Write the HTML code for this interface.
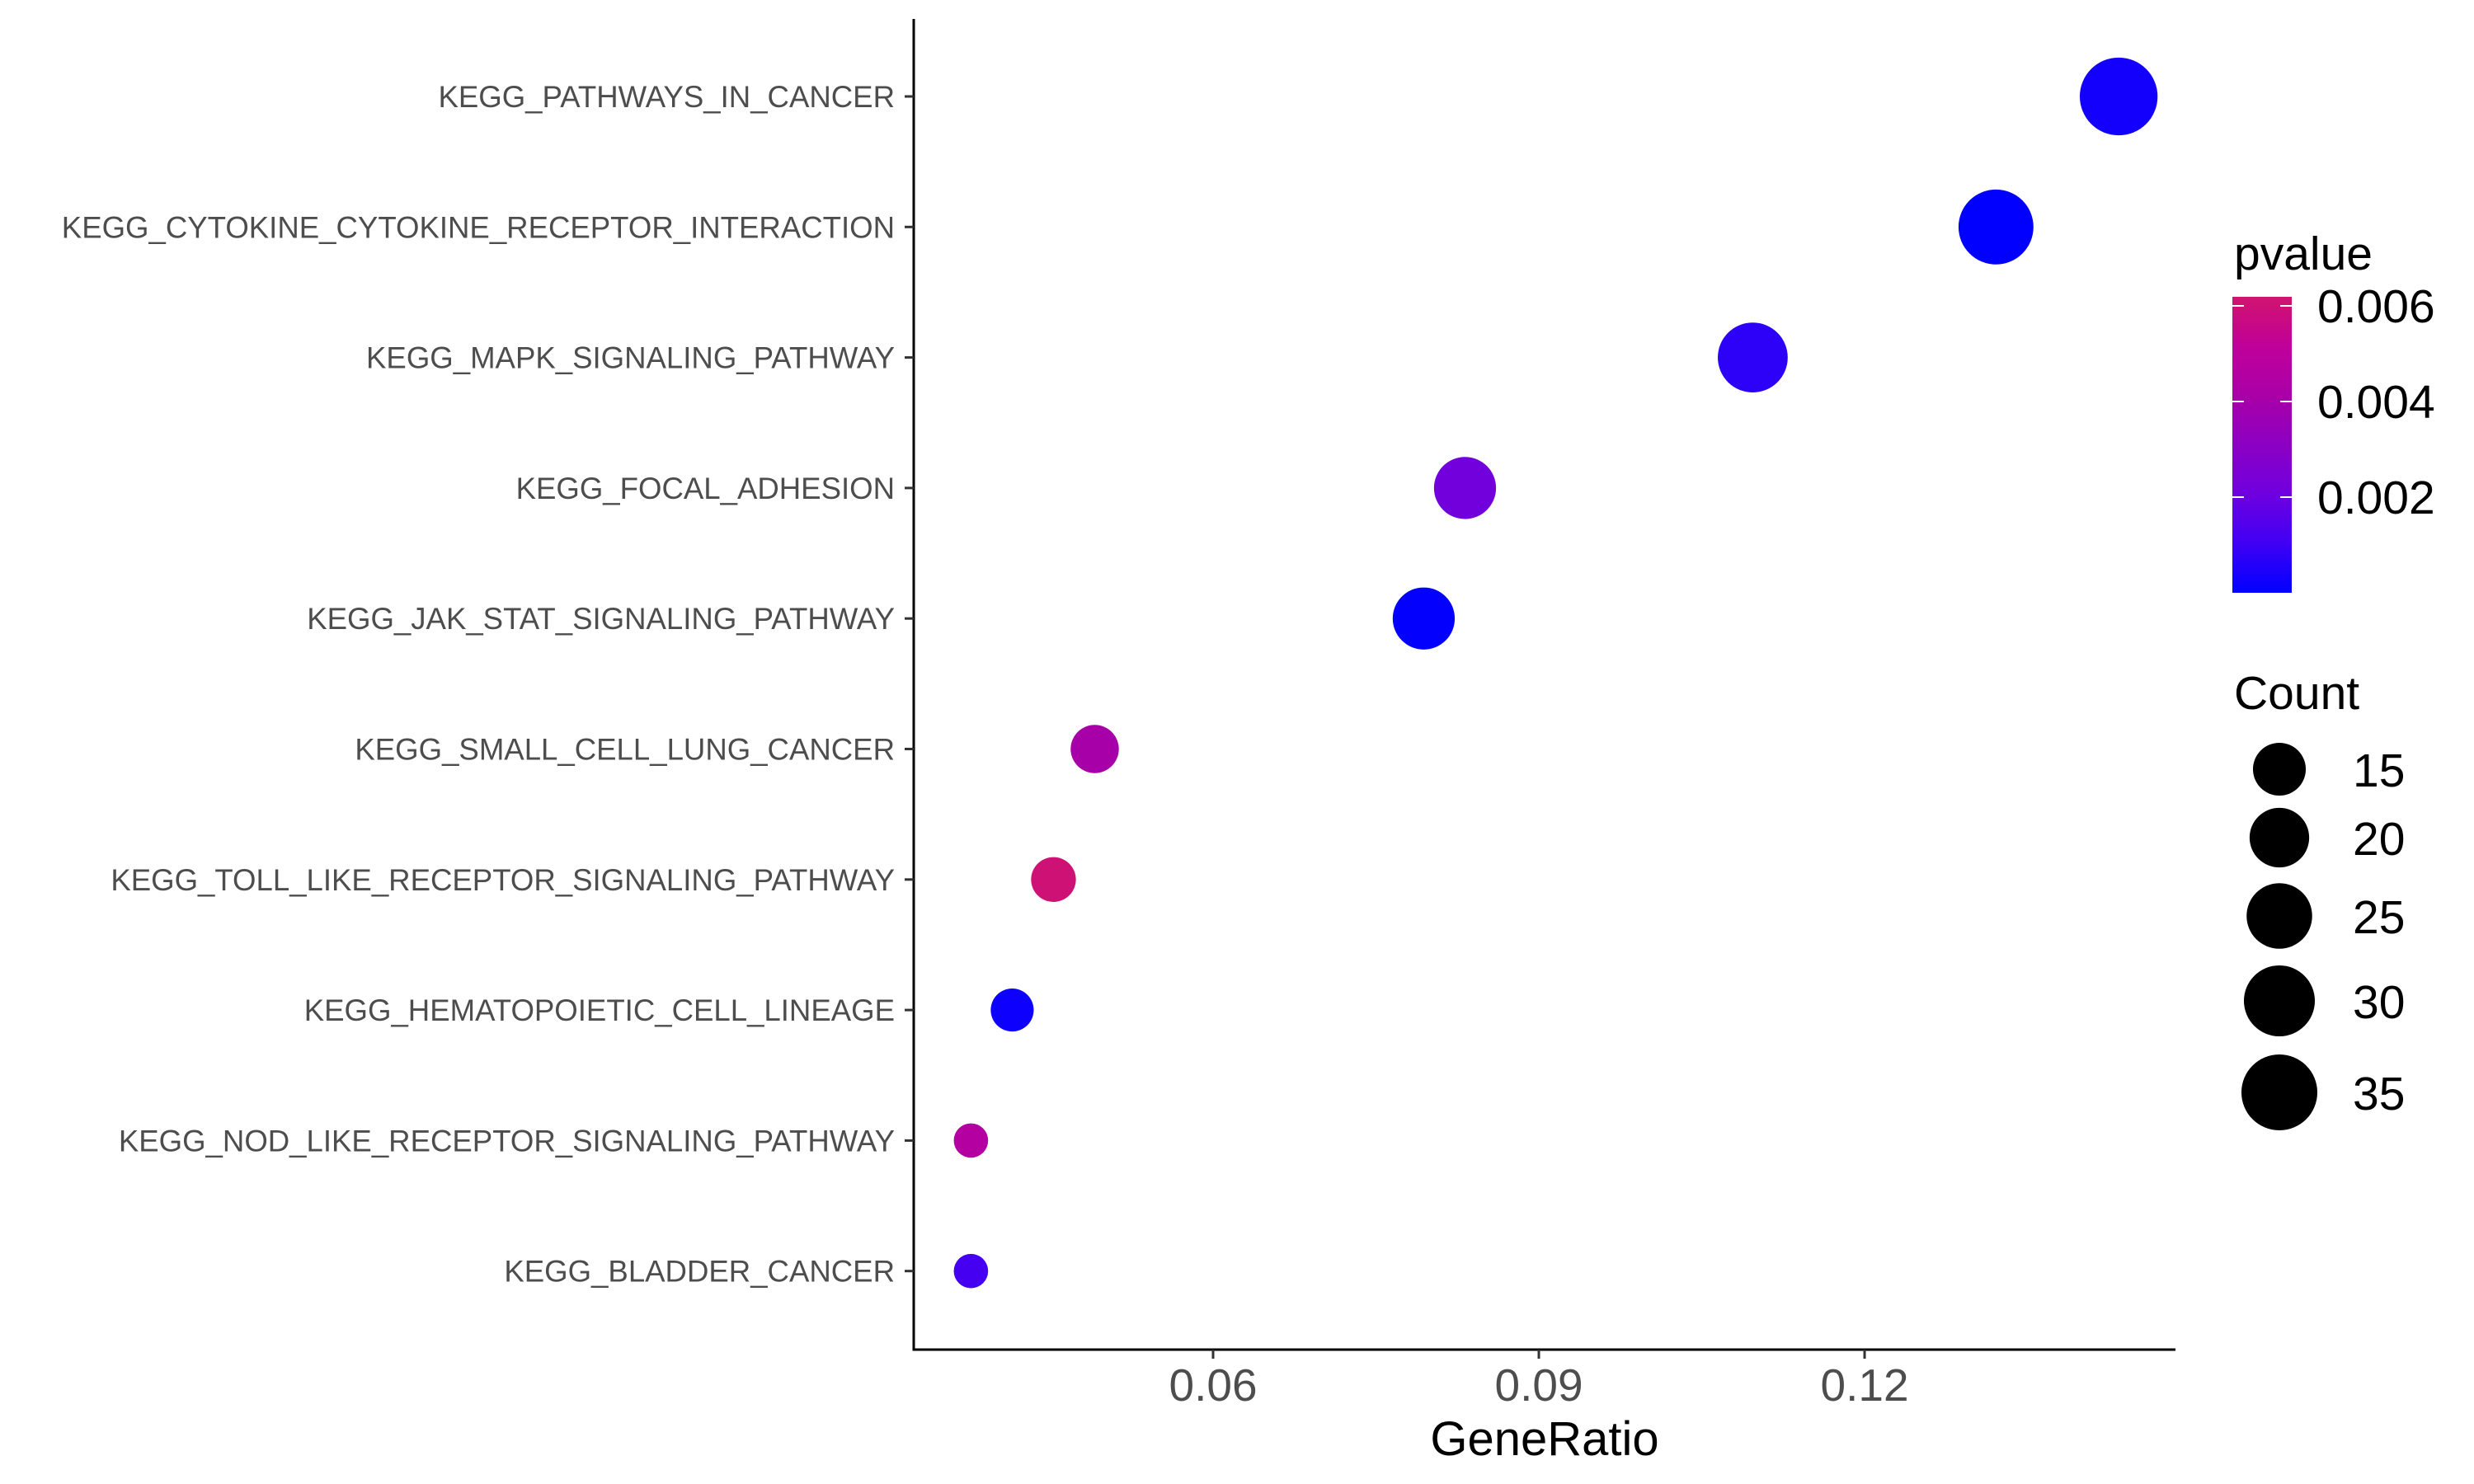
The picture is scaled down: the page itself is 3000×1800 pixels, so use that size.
<!DOCTYPE html>
<html><head><meta charset="utf-8"><style>
html,body{margin:0;padding:0;background:#fff;}
svg{display:block;font-family:"Liberation Sans",Arial,sans-serif;}
</style></head><body>
<svg id="chart" width="3000" height="1800" viewBox="0 0 3000 1800" xmlns="http://www.w3.org/2000/svg">
<defs>
<linearGradient id="pgrad" x1="0" y1="1" x2="0" y2="0">
<stop offset="0" stop-color="#0000FF"/>
<stop offset="0.17" stop-color="#4000F4"/>
<stop offset="0.33" stop-color="#6E00E0"/>
<stop offset="0.66" stop-color="#A800A8"/>
<stop offset="0.83" stop-color="#C0009A"/>
<stop offset="1" stop-color="#D0146E"/>
</linearGradient>
</defs>
<g id="points"></g>
<g id="axes"></g>
<g id="legend"></g>
</svg>
<script>
const categories = ["KEGG_PATHWAYS_IN_CANCER","KEGG_CYTOKINE_CYTOKINE_RECEPTOR_INTERACTION","KEGG_MAPK_SIGNALING_PATHWAY","KEGG_FOCAL_ADHESION","KEGG_JAK_STAT_SIGNALING_PATHWAY","KEGG_SMALL_CELL_LUNG_CANCER","KEGG_TOLL_LIKE_RECEPTOR_SIGNALING_PATHWAY","KEGG_HEMATOPOIETIC_CELL_LINEAGE","KEGG_NOD_LIKE_RECEPTOR_SIGNALING_PATHWAY","KEGG_BLADDER_CANCER"];
const geneRatio = [0.1434,0.1321,0.1097,0.0832,0.0794,0.0491,0.0453,0.0415,0.0377,0.0377];
const counts = [37,34,29,22,22,12,10,9,5,5];
const pvalues = [0.0003,0.00002,0.0007,0.0021,0.00005,0.0040,0.0060,0.0002,0.0045,0.0011];
const xTicks = [0.06,0.09,0.12];
const xTickLabels = ["0.06","0.09","0.12"];
const pTicks = [0.006,0.004,0.002];
const pTickLabels = ["0.006","0.004","0.002"];
const countBreaks = [15,20,25,30,35];

const NS="http://www.w3.org/2000/svg";
const X0=1108,X1=2638,D0=0.03243,D1=0.14863;
function xScale(v){return X0+(v-D0)/(D1-D0)*(X1-X0);}
function yScale(i){return 117+i*158.3;}
function rScale(c){return 5.5+6.85*Math.sqrt(c);}
const cStops=[[0,[0,0,255]],[0.001,[64,0,244]],[0.002,[110,0,224]],[0.004,[168,0,168]],[0.005,[192,0,154]],[0.0062,[208,20,110]]];
function colorScale(p){
  for(let i=1;i<cStops.length;i++){
    if(p<=cStops[i][0]||i===cStops.length-1){
      const a=cStops[i-1],b=cStops[i];let t=(p-a[0])/(b[0]-a[0]);t=Math.max(0,Math.min(1,t));
      const c=a[1].map((v,k)=>Math.round(v+(b[1][k]-v)*t));return `rgb(${c[0]},${c[1]},${c[2]})`;
    }
  }
}
function pY(p){return 603-(p-0.002)/0.002*116;}
function cLegY(i){return [933,1016,1111,1214,1325][i];}
function mk(tag,attrs,parent,text){const e=document.createElementNS(NS,tag);for(const k in attrs)e.setAttribute(k,attrs[k]);if(text!==undefined)e.textContent=text;parent.appendChild(e);return e;}

const gp=document.getElementById('points');
categories.forEach((c,i)=>{
  const e=mk('circle',{cx:xScale(geneRatio[i]),cy:yScale(i),r:rScale(counts[i]),fill:colorScale(pvalues[i])},gp);
  
  
});

const ga=document.getElementById('axes');
let l=mk('line',{x1:X0,y1:23,x2:X0,y2:1638.5,stroke:'#000','stroke-width':3},ga);


l=mk('line',{x1:X0-1.5,y1:1637,x2:X1,y2:1637,stroke:'#000','stroke-width':3},ga);


categories.forEach((c,i)=>{
  const y=yScale(i);
  const t=mk('line',{x1:X0-11,y1:y,x2:X0,y2:y,stroke:'#333','stroke-width':3},ga);
  
  
  const tx=mk('text',{x:1085,y:y+13,'text-anchor':'end','font-size':36.6,fill:'#4d4d4d'},ga,c);
  
  
});
xTicks.forEach((v,i)=>{
  const x=xScale(v);
  const t=mk('line',{x1:x,y1:1637,x2:x,y2:1648,stroke:'#333','stroke-width':3},ga);
  
  
  const tx=mk('text',{x:x,y:1699,'text-anchor':'middle','font-size':55,fill:'#4d4d4d'},ga,xTickLabels[i]);
  
  
});
let tt=mk('text',{x:(X0+X1)/2,y:1765,'text-anchor':'middle','font-size':58,fill:'#000'},ga,'GeneRatio');



const gl=document.getElementById('legend');
tt=mk('text',{x:2709,y:327,'font-size':57,fill:'#000'},gl,'pvalue');


const bar=mk('rect',{x:2707,y:360,width:72,height:359,fill:'url(#pgrad)'},gl);


pTicks.forEach((p,i)=>{
  const y=pY(p);
  mk('line',{x1:2707,y1:y,x2:2721,y2:y,stroke:'#fff','stroke-width':2},gl);
  mk('line',{x1:2765,y1:y,x2:2779,y2:y,stroke:'#fff','stroke-width':2},gl);
  const tx=mk('text',{x:2810,y:y+20,'font-size':57,fill:'#000'},gl,pTickLabels[i]);
  
  
});
tt=mk('text',{x:2709,y:860,'font-size':57,fill:'#000'},gl,'Count');


countBreaks.forEach((c,i)=>{
  const e=mk('circle',{cx:2764,cy:cLegY(i),r:rScale(c),fill:'#000'},gl);
  
  
  const tx=mk('text',{x:2853,y:cLegY(i)+21,'font-size':57,fill:'#000'},gl,String(c));
  
  
});
</script>
</body></html>
